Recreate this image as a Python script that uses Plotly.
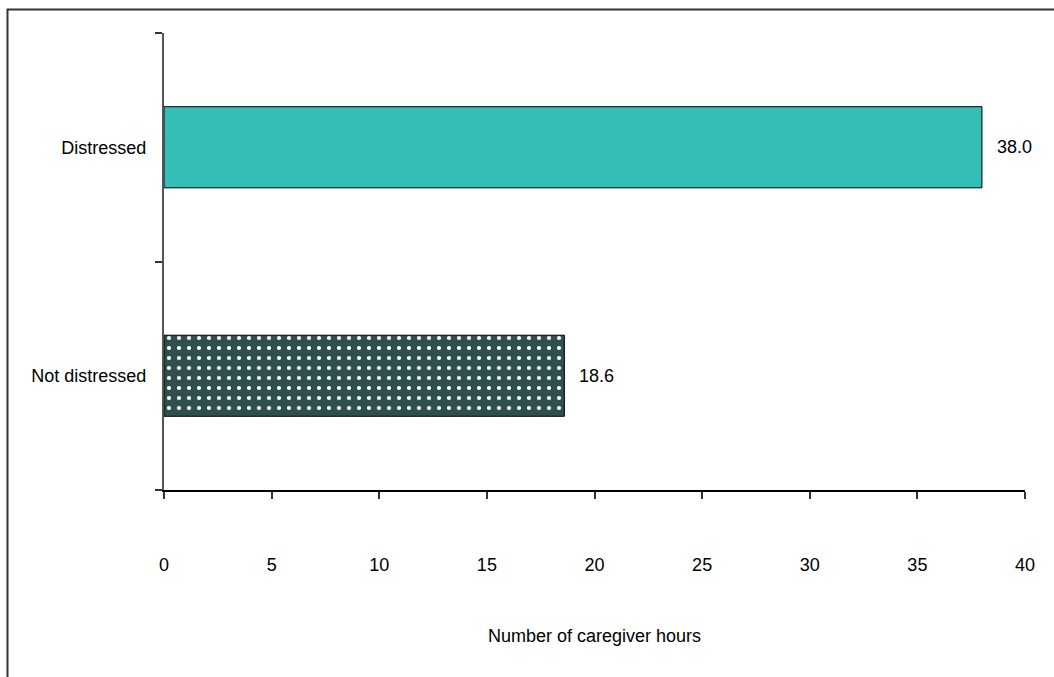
import plotly.graph_objects as go

# Average weekly caregiver hours by caregiver distress status
categories = ["Not distressed", "Distressed"]
hours = [18.6, 38.0]
bar_colors = ["#2F4F4F", "#33BFB5"]
bar_patterns = [".", ""]
x_ticks = [0, 5, 10, 15, 20, 25, 30, 35, 40]

W, H = 1054, 677
ML, MR, MT, MB = 164, 29, 33, 187
PW, PH = W - ML - MR, H - MT - MB

FONT = "Liberation Sans, Arial, sans-serif"
FS = 18

fig = go.Figure()
for cat, val, col, pat in zip(categories, hours, bar_colors, bar_patterns):
    fig.add_trace(go.Bar(
        y=[cat],
        x=[val],
        orientation="h",
        width=0.355,
        marker=dict(
            color=col,
            line=dict(color="#000000", width=1),
            pattern=dict(
                shape=pat,
                fgcolor="#FFFFFF",
                fgopacity=1,
                size=10,
                solidity=0.14,
                fillmode="overlay",
            ),
        ),
        hoverinfo="skip",
    ))
    # Value label to the right of the bar
    fig.add_annotation(
        x=val, y=cat, text=f"{val:.1f}", showarrow=False,
        xanchor="left", xshift=13, font=dict(family=FONT, size=FS, color="#000"),
    )

# Outer frame (left and top edges visible)
fig.add_shape(
    type="rect", xref="paper", yref="paper",
    x0=(7.5 - ML) / PW, x1=(W + 20 - ML) / PW,
    y0=(MT + PH - (H + 20)) / PH, y1=(MT + PH - 9.5) / PH,
    line=dict(color="#333333", width=2), fillcolor="rgba(0,0,0,0)", layer="below",
)

fig.update_layout(
    width=W, height=H,
    margin=dict(l=ML, r=MR, t=MT, b=MB),
    paper_bgcolor="#FFFFFF", plot_bgcolor="#FFFFFF",
    showlegend=False,
    barmode="overlay",
    font=dict(family=FONT, size=FS, color="#000"),
    xaxis=dict(
        range=[0, 40], tickvals=x_ticks, ticktext=[str(t) for t in x_ticks],
        showgrid=False, zeroline=False,
        showline=True, linecolor="#000", linewidth=1.5,
        ticks="outside", ticklen=7, tickwidth=1.5, tickcolor="#333",
        ticklabelstandoff=51,
        title=dict(text="Number of caregiver hours", standoff=55, font=dict(size=FS)),
        fixedrange=True,
    ),
    yaxis=dict(
        type="category", categoryorder="array", categoryarray=categories,
        range=[-0.5, 1.5], tickson="boundaries",
        showgrid=False, zeroline=False,
        showline=True, linecolor="#555", linewidth=2,
        ticks="outside", ticklen=7, tickwidth=1.5, tickcolor="#333",
        ticklabelstandoff=12,
        fixedrange=True,
    ),
)

fig.write_html("out.html")
